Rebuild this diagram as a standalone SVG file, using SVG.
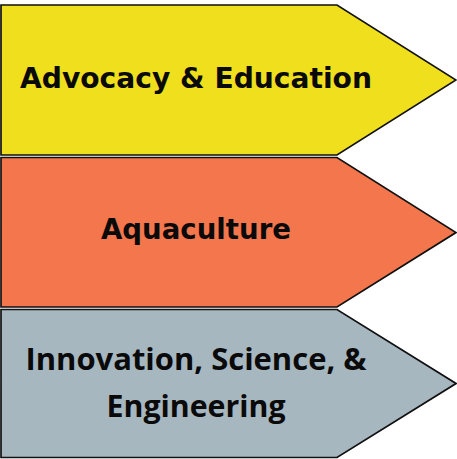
<svg xmlns="http://www.w3.org/2000/svg" width="457" height="459" viewBox="0 0 457 459">
  <style>
    .arrow { stroke: #111; stroke-width: 1.7; stroke-linejoin: miter; }
    .lbl { font-family: "DejaVu Sans", "Liberation Sans", sans-serif; font-weight: bold; fill: #0a0a0a; text-anchor: middle; }
    .lbl2 { font-family: "Open Sans", "DejaVu Sans", sans-serif; font-weight: bold; fill: #0a0a0a; text-anchor: middle; }
  </style>
  <rect width="457" height="459" fill="#ffffff"/>
  <g id="node-advocacy">
    <polygon class="arrow" fill="#EFDF1D" points="1,5 337,5 456,80 337,155 1,155"/>
    <text class="lbl" x="196" y="88" font-size="28" textLength="352" lengthAdjust="spacingAndGlyphs">Advocacy &amp; Education</text>
  </g>
  <g id="node-aquaculture">
    <polygon class="arrow" fill="#F4764C" points="1,157.5 337,157.5 456,232.5 337,307 1,307"/>
    <text class="lbl" x="196" y="239" font-size="27.5" textLength="190" lengthAdjust="spacingAndGlyphs">Aquaculture</text>
  </g>
  <g id="node-innovation">
    <polygon class="arrow" fill="#A7B7C0" points="1,309.5 337,309.5 456,383.5 337,457.5 1,457.5"/>
    <text class="lbl2" x="196" y="369.5" font-size="30" textLength="341" lengthAdjust="spacingAndGlyphs">Innovation, Science, &amp;</text>
    <text class="lbl2" x="196" y="417" font-size="30" textLength="179" lengthAdjust="spacingAndGlyphs">Engineering</text>
  </g>
  <g id="connectors"/>
</svg>
